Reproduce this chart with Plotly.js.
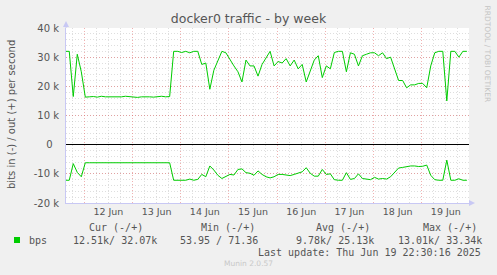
<!DOCTYPE html>
<html>
<head>
<meta charset="utf-8">
<script src="https://cdn.plot.ly/plotly-3.0.1.min.js"></script>
<style>
html,body{margin:0;padding:0;background:#f0f0f0;}
#chart{width:497px;height:275px;}
</style>
</head>
<body>
<div id="chart"></div>
<script>
// ---- data (k bits per second), 2-hour samples ----
const startTime = '2025-06-11T14:30:00';
const stepHours = 2;
const outValues = [32,32,16.5,31,25,16.3,
  16.4,16.5,16.3,16.6,16.4,16.4,16.5,16.3,16.4,16.6,16.4,16.3,16.2,16.4,16.5,16.4,16.3,16.5,16.6,16.4,16.5,
  32,32,31.6,32,31.5,32,32,
  27.5,28,19,25.5,29,32,31.5,29,27,25,21.5,29,
  27,27,23.5,27.5,30,32,27,28.5,28,29.5,27,29,26,27.5,21.5,25,29,30.5,23,27,26,
  31.6,32,32,25,31.5,31,27,30.5,31,31.5,31.5,30.5,31.5,29.5,30,
  26,22,22,19.5,20.5,20.5,21,21,19.5,27,31.5,32,32,15,32,32,30,32,32];
const inValues = [-12.2,-12.2,-6.5,-9.5,-11,-6.2,
  -6.2,-6.2,-6.2,-6.2,-6.2,-6.2,-6.2,-6.2,-6.2,-6.2,-6.2,-6.2,-6.2,-6.2,-6.2,-6.2,-6.2,-6.2,-6.2,-6.2,-6.2,
  -12.2,-12.2,-12.1,-12.2,-11.8,-12.2,-11.9,
  -10.2,-11,-7.3,-8.7,-10.5,-11.6,-11,-10.2,-10.4,-8.5,-8.3,-9.6,
  -9.8,-10.5,-9,-10.2,-11,-11.4,-11,-10.2,-10.2,-10.4,-10.6,-10.2,-9.8,-9.3,-7.9,-9.8,-10.8,-10.8,-8.5,-10.2,-10,
  -12,-12.2,-12.2,-9.6,-11.9,-11.6,-10,-11.6,-11.8,-12,-11.2,-11.8,-11.6,-11.8,-11,
  -9.5,-8,-7.8,-7.5,-7.3,-7.3,-7.5,-7.4,-7,-10.5,-12,-12.2,-12.2,-5.3,-12.2,-12.2,-11.7,-12.2,-12.2];
const yTickVals = [-20,-10,0,10,20,30,40];
const yTickText = ['-20 k','-10 k','0\u00a0\u00a0','10 k','20 k','30 k','40 k'];
const legendHeaders = ['Cur (-/+)','Min (-/+)','Avg (-/+)','Max (-/+)'];
const legendValues = ['12.51k/ 32.07k','53.95 / 71.36','9.78k/ 25.13k','13.01k/ 33.34k'];
const seriesName = 'bps';
const lastUpdate = 'Last update: Thu Jun 19 22:30:16 2025';

// time grid
const t0 = new Date(startTime + 'Z').getTime();
function fmt(ms){return new Date(ms).toISOString().slice(0,19).replace('T',' ');}
const times = outValues.map((v,i)=>fmt(t0 + i*stepHours*3600000));

// ---- layout geometry ----
const W=497,H=275;
const m={l:66,r:28,t:28,b:72};
const pw=W-m.l-m.r, ph=H-m.t-m.b;
const px=x=>(x-m.l)/pw;
const py=y=>1-(y-m.t)/ph;

const green='#00cc00';
const txt='#555555';
const mono='DejaVu Sans Mono, monospace';
const sans='DejaVu Sans, sans-serif';
const majorGrid='rgba(225,100,100,0.5)';
const minorGrid='rgba(160,160,160,0.35)';
const axisCol='#c8c8f4';

const traces=[
  {x:times,y:outValues,type:'scatter',mode:'lines',line:{color:green,width:1},hoverinfo:'skip'},
  {x:times,y:inValues,type:'scatter',mode:'lines',line:{color:green,width:1},hoverinfo:'skip'}
];

const ann=[];
function A(text,x,y,opt){ann.push(Object.assign({text,x:px(x),y:py(y),xref:'paper',yref:'paper',showarrow:false,xanchor:'center',yanchor:'middle',font:{family:mono,size:10,color:txt}},opt||{}));}
A('bits in (-) / out (+) per second',11,115,{textangle:-90,font:{family:sans,size:10,color:txt}});
A('RRDTOOL / TOBI OETIKER',487.5,54,{textangle:90,font:{family:sans,size:7.5,color:'#c4c4c4'}});
const hdrX=[116,228,343,450];
const valX=[115,219,335,440];
legendHeaders.forEach((h,i)=>A(h,hdrX[i],227));
legendValues.forEach((v,i)=>A(v,valX[i],240));
A(seriesName,27,240,{xanchor:'left'});
A(lastUpdate,482.5,252,{xanchor:'right'});
A('Munin 2.0.57',248,263,{font:{family:sans,size:7.5,color:'#c8c8c8'}});

const shapes=[
  // legend swatch
  {type:'rect',xref:'paper',yref:'paper',x0:px(14),x1:px(20),y0:py(243),y1:py(237),fillcolor:green,line:{width:0}},
  // y axis arrow (top)
  {type:'path',xref:'paper',yref:'paper',path:`M ${px(63)} ${py(27)} L ${px(69)} ${py(27)} L ${px(66)} ${py(21)} Z`,fillcolor:axisCol,line:{width:0}},
  {type:'line',xref:'paper',yref:'paper',x0:px(66),x1:px(66),y0:1,y1:py(26),line:{color:axisCol,width:1}},
  // x axis arrow (right)
  {type:'path',xref:'paper',yref:'paper',path:`M ${px(469)} ${py(200)} L ${px(469)} ${py(206)} L ${px(475)} ${py(203)} Z`,fillcolor:axisCol,line:{width:0}}
];

const layout={
  width:W,height:H,
  margin:m,
  paper_bgcolor:'#f0f0f0',
  plot_bgcolor:'#ffffff',
  showlegend:false,
  title:{text:'docker0 traffic - by week',x:248.5/W,xanchor:'center',y:1-19/H,yanchor:'middle',font:{family:sans,size:12.5,color:txt}},
  xaxis:{
    type:'date',
    range:['2025-06-11 14:53:00','2025-06-19 23:33:00'],
    dtick:86400000,tick0:'2025-06-12',
    ticklabelmode:'period',tickformat:'%d %b',
    showgrid:true,gridcolor:majorGrid,griddash:'1px,2px',gridwidth:1,
    minor:{dtick:21600000,tick0:'2025-06-12',showgrid:true,gridcolor:minorGrid,griddash:'1px,2px',gridwidth:1},
    showline:true,linecolor:axisCol,linewidth:1,
    ticks:'',zeroline:false,
    tickfont:{family:sans,size:9.5,color:txt},
    fixedrange:true
  },
  yaxis:{
    range:[-20,40],
    tickvals:yTickVals,ticktext:yTickText,
    showgrid:true,gridcolor:majorGrid,griddash:'1px,2px',gridwidth:1,
    minor:{dtick:2,showgrid:true,gridcolor:minorGrid,griddash:'1px,2px',gridwidth:1},
    zeroline:true,zerolinecolor:'#000000',zerolinewidth:1,
    showline:true,linecolor:axisCol,linewidth:1,
    ticks:'',ticklabelstandoff:4,
    tickfont:{family:sans,size:10,color:txt},
    fixedrange:true
  },
  annotations:ann,
  shapes:shapes
};

Plotly.newPlot('chart',traces,layout,{displayModeBar:false,staticPlot:true});
</script>
</body>
</html>
